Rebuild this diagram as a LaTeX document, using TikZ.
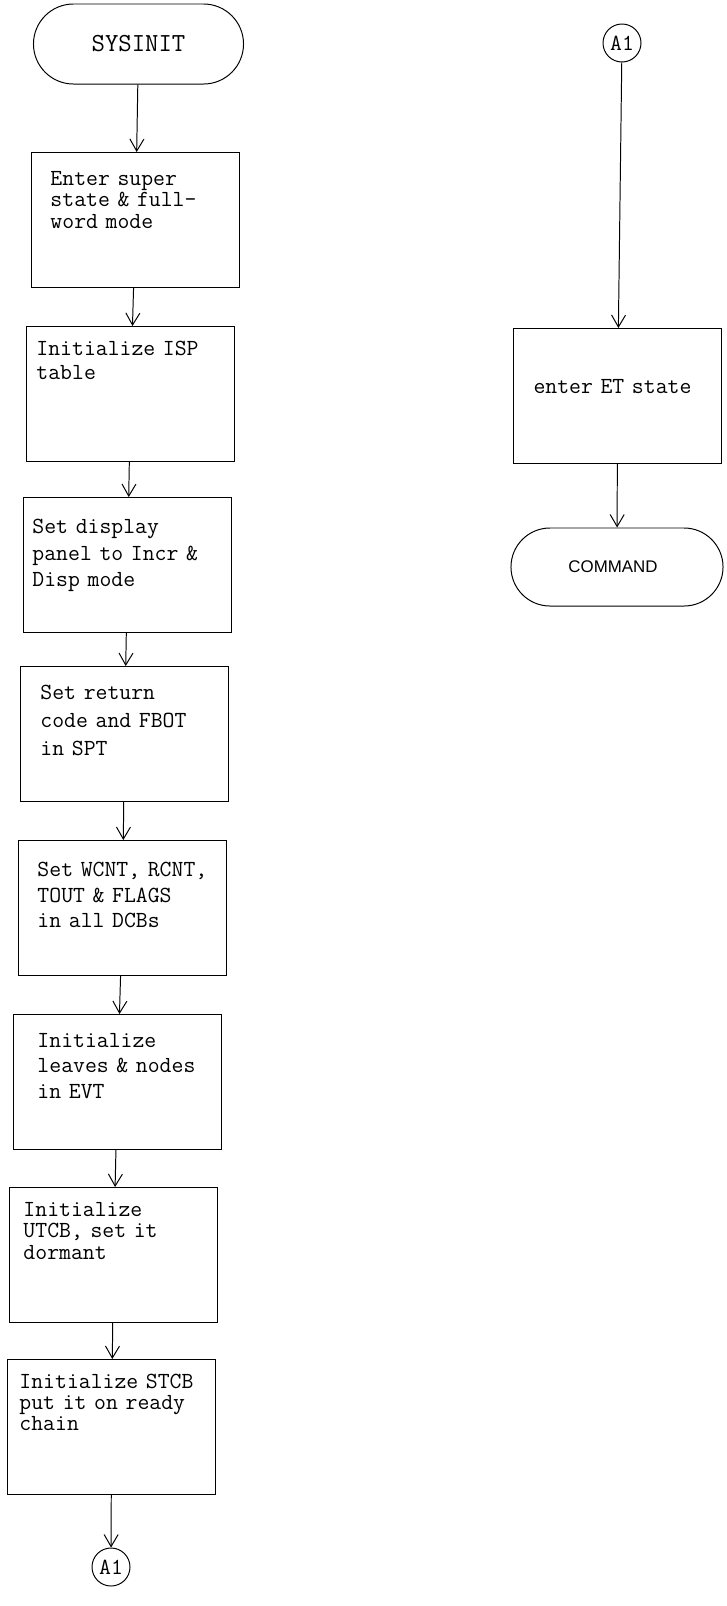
\documentclass[tikz,border=0pt]{standalone}
\usepackage{fontspec}
\setsansfont{Liberation Sans}
\usetikzlibrary{positioning, arrows.meta, shapes.misc}

\begin{document}
\begin{tikzpicture}[
    x=0.025cm, y=-0.025cm,
    font=\ttfamily\fontsize{16.4pt}{17pt}\selectfont,
    stepbox/.style={rectangle, draw, line width=0.7pt, anchor=north west, text width=5.0cm, inner xsep=0.1cm, inner ysep=0pt, align=left},
    txt/.style n args={3}{text height=#3, text depth={3.375cm-#3}, execute at begin node={\leftskip=#1\relax\baselineskip=#2\relax}},
    term/.style={rounded rectangle, draw, line width=0.7pt, minimum width=5.25cm, minimum height=2cm, inner sep=0pt},
    conn/.style={circle, draw, line width=0.7pt, minimum size=0.95cm, inner sep=0pt},
    arrow/.style={draw, line width=0.7pt, -{Straight Barb[length=0.3cm, width=0.35cm]}}
]
\useasboundingbox (0,0) rectangle (726,1606);

% Left column
\node[term, font=\ttfamily\fontsize{18.5pt}{20pt}\selectfont] (sysinit) at (138.5,44) {SYSINIT};

\node[stepbox, txt={0.375cm}{15.2pt}{0.82cm}] (super) at (31,152) {Enter super\\state \& full-\\word mode};
\node[stepbox, txt={0.15cm}{17.5pt}{0.72cm}] (isp) at (26,326) {Initialize ISP\\table};
\node[stepbox, txt={0.125cm}{19pt}{0.9cm}] (panel) at (23,497) {Set display\\panel to Incr \&\\Disp mode};
\node[stepbox, txt={0.4cm}{20pt}{0.82cm}] (retcode) at (20,666) {Set return\\code and FBOT\\in SPT};
\node[stepbox, txt={0.375cm}{18.2pt}{0.9cm}] (dcbs) at (18,840) {Set WCNT, RCNT,\\TOUT \& FLAGS\\in all DCBs};
\node[stepbox, txt={0.5cm}{18.2pt}{0.82cm}] (evt) at (13,1014) {Initialize\\leaves \& nodes\\in EVT};
\node[stepbox, txt={0.25cm}{15.3pt}{0.72cm}] (utcb) at (9,1187) {Initialize\\UTCB, set it\\dormant};
\node[stepbox, txt={0.2cm}{15pt}{0.72cm}] (stcb) at (7,1359) {Initialize STCB\\put it on ready\\chain};

\node[conn] (a1out) at (111,1567) {A1};

% Right column
\node[conn] (a1in) at (622,43) {A1};
\node[stepbox, txt={0.4cm}{15pt}{1.625cm}] (etstate) at (513,328) {enter ET state};
\node[term, minimum width=5.3cm, minimum height=1.95cm, font=\sffamily\fontsize{12pt}{14pt}\selectfont] (command) at (617,567) {\hspace*{-0.2cm}COMMAND};

% Connections
\draw[arrow] (sysinit) -- (super);
\draw[arrow] (super) -- (isp);
\draw[arrow] (isp) -- (panel);
\draw[arrow] (panel) -- (retcode);
\draw[arrow] (retcode) -- (dcbs);
\draw[arrow] (dcbs) -- (evt);
\draw[arrow] (evt) -- (utcb);
\draw[arrow] (utcb) -- (stcb);
\draw[arrow] (stcb) -- (a1out);
\draw[arrow] (a1in) -- (etstate);
\draw[arrow] (etstate) -- (command);

\end{tikzpicture}
\end{document}
